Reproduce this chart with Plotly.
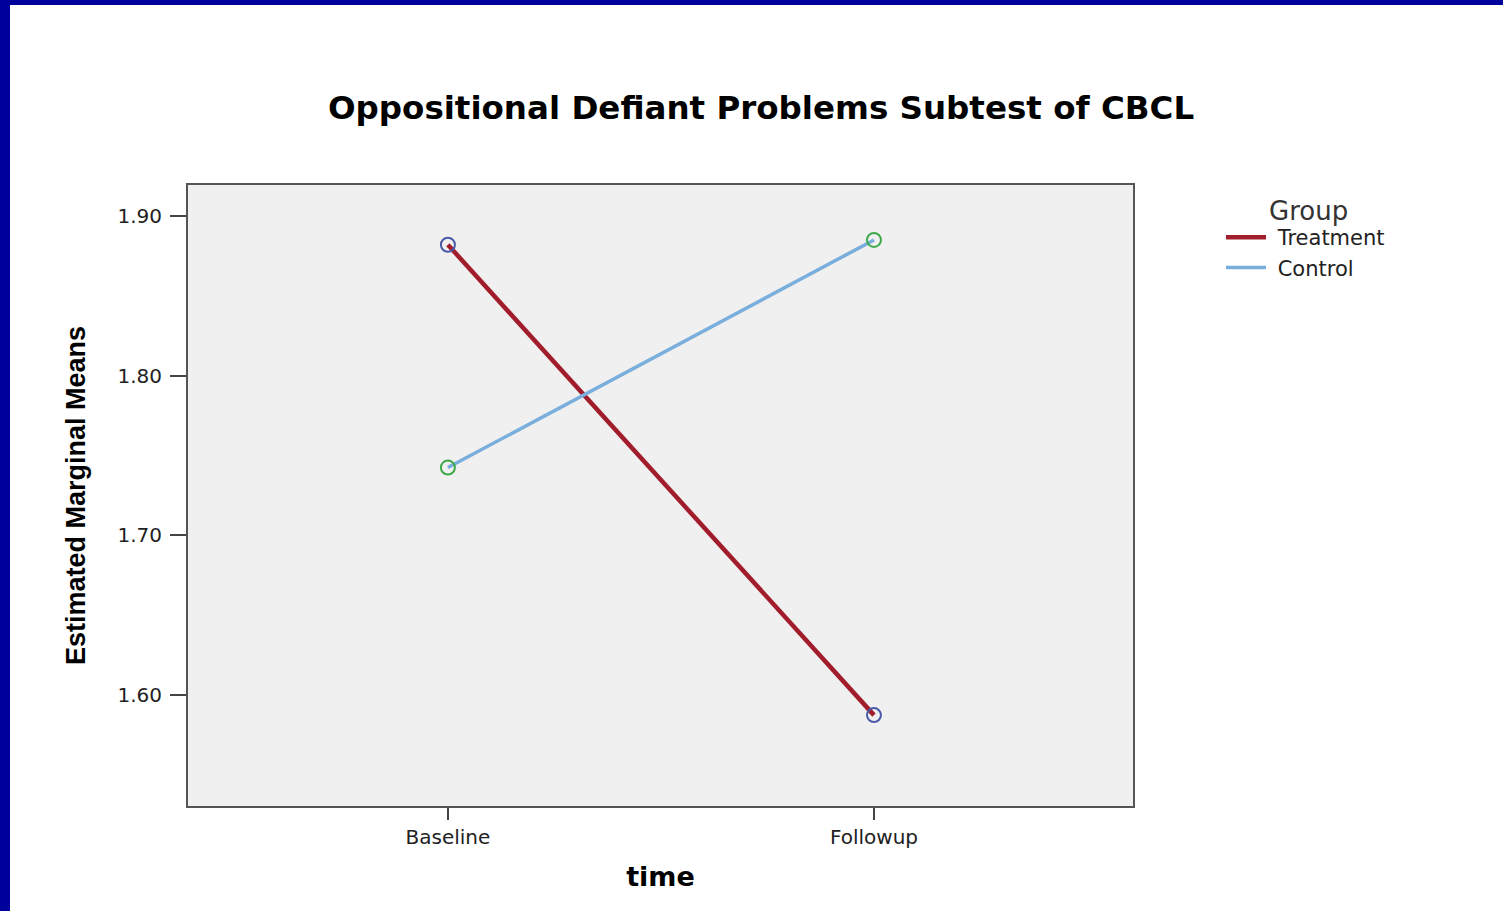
import plotly.graph_objects as go

times = ["Baseline", "Followup"]
treatment = [1.882, 1.5875]
control = [1.7425, 1.885]
y_ticks = [1.60, 1.70, 1.80, 1.90]
y_tick_labels = ["1.60", "1.70", "1.80", "1.90"]

W, H = 1503, 911
L, R, T, B = 188, 1133, 185, 806

fig = go.Figure()
fig.add_trace(go.Scatter(x=times, y=treatment, mode="lines", name="\u00a0Treatment",
                         line=dict(color="#a11d2b", width=4.5)))
fig.add_trace(go.Scatter(x=times, y=control, mode="lines", name="\u00a0Control",
                         line=dict(color="#7aaedc", width=3.5)))
fig.add_trace(go.Scatter(x=times, y=treatment, mode="markers", showlegend=False,
                         marker=dict(symbol="circle-open", size=14, color="#4a5aa8",
                                     line=dict(width=2))))
fig.add_trace(go.Scatter(x=times, y=control, mode="markers", showlegend=False,
                         marker=dict(symbol="circle-open", size=14, color="#3caa4a",
                                     line=dict(width=2))))

pw, ph = R - L, B - T
def px(x):
    return (x - L) / pw
def py(y):
    return (B - y) / ph

shapes = [
    dict(type="rect", xref="paper", yref="paper", x0=px(0), x1=px(10), y0=py(H), y1=py(0),
         fillcolor="#00009c", line=dict(width=0), layer="above"),
    dict(type="rect", xref="paper", yref="paper", x0=px(0), x1=px(W), y0=py(5), y1=py(0),
         fillcolor="#00009c", line=dict(width=0), layer="above"),
]

annotations = [
    dict(text="Group", xref="paper", yref="paper", x=px(1267), y=py(211),
         xanchor="left", yanchor="middle", showarrow=False,
         font=dict(family="DejaVu Sans", size=26, color="#333333")),
]

fig.update_layout(
    width=W, height=H,
    margin=dict(l=L, r=W - R, t=T, b=H - B),
    paper_bgcolor="white", plot_bgcolor="#f0f0f0",
    shapes=shapes, annotations=annotations,
    title=dict(text="<b>Oppositional Defiant Problems Subtest of CBCL</b>",
               x=761 / W, xanchor="center", y=1 - 108 / H, yanchor="middle",
               font=dict(family="DejaVu Sans", size=32.5, color="black")),
    xaxis=dict(type="category", range=[-0.61, 1.608], showgrid=False, zeroline=False,
               showline=True, linecolor="#555555", linewidth=2, mirror=True,
               ticks="outside", ticklen=12, tickwidth=2, tickcolor="#444444",
               ticklabelstandoff=0,
               tickfont=dict(family="DejaVu Sans", size=20, color="#222222"),
               title=dict(text="<b>time</b>", standoff=19,
                          font=dict(family="DejaVu Sans", size=27, color="black"))),
    yaxis=dict(range=[1.5306, 1.9194], tickvals=y_ticks, ticktext=y_tick_labels,
               showgrid=False, zeroline=False,
               showline=True, linecolor="#555555", linewidth=2, mirror=True,
               ticks="outside", ticklen=16, tickwidth=2, tickcolor="#444444",
               ticklabelstandoff=4,
               tickfont=dict(family="DejaVu Sans", size=20, color="#222222"),
               title=dict(text="<b>Estimated Marginal Means</b>", standoff=24,
                          font=dict(family="Liberation Sans Narrow, Arial Narrow, Liberation Sans",
                                    size=27, color="black"))),
    legend=dict(x=px(1221), y=py(217), xanchor="left", yanchor="top",
                bgcolor="rgba(0,0,0,0)",
                font=dict(family="DejaVu Sans", size=21, color="#222222"),
                tracegroupgap=0, itemwidth=40),
    showlegend=True,
)

fig.write_html("out.html", config={"displayModeBar": False},
               post_script="document.body.style.margin='0px';")
